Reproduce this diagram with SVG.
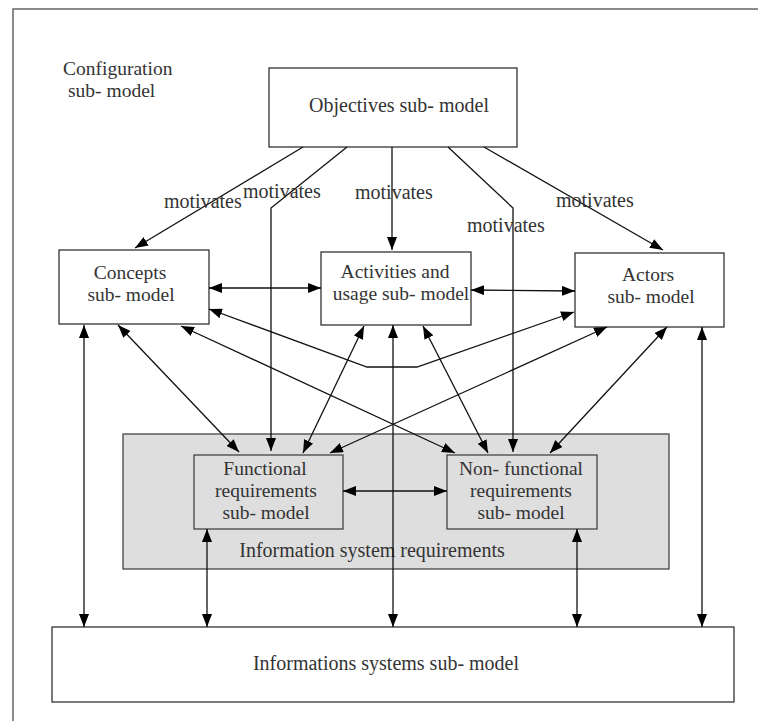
<svg xmlns="http://www.w3.org/2000/svg" width="758" height="721" viewBox="0 0 758 721">
  <style>
    .box { fill: #ffffff; stroke: #333333; stroke-width: 1.3; }
    .grey { fill: #dedede; stroke: #444444; stroke-width: 1.3; }
    .frame { fill: none; stroke: #666666; stroke-width: 1.5; }
    .lbl { font-family: "Liberation Serif", "Times New Roman", serif; font-size: 20px; fill: #333333; }
    .ml { font-size: 19.5px; }
    .mid { text-anchor: middle; }
    .conn path { fill: none; stroke: #111111; stroke-width: 1.3; }
    .one { marker-end: url(#ah); }
    .two { marker-start: url(#ah); marker-end: url(#ah); }
  </style>
  <defs>
    <marker id="ah" viewBox="0 0 13 10" refX="13" refY="5" markerWidth="13" markerHeight="10" markerUnits="userSpaceOnUse" orient="auto-start-reverse">
      <path d="M0,0 L13,5 L0,10 z" fill="#000000"/>
    </marker>
  </defs>

  <rect width="758" height="721" fill="#ffffff"/>

  <!-- page frame (only top and left edges fall inside the sheet) -->
  <path class="frame" d="M13,721 L13,9 L758,9"/>

  <text class="lbl ml" x="63" y="75">Configuration</text>
  <text class="lbl ml" x="68" y="97">sub- model</text>

  <!-- requirements container -->
  <g id="requirements">
    <rect class="grey" x="123" y="434" width="546" height="135"/>
    <text class="lbl mid" x="372" y="557">Information system requirements</text>
  </g>

  <g id="objectives">
    <rect class="box" x="269" y="68" width="248" height="79"/>
    <text class="lbl mid" x="399" y="112">Objectives sub- model</text>
  </g>

  <g id="concepts">
    <rect class="box" x="59" y="250" width="150" height="74"/>
    <text class="lbl ml mid" x="130" y="279">Concepts</text>
    <text class="lbl ml mid" x="131" y="301">sub- model</text>
  </g>

  <g id="activities">
    <rect class="box" x="321" y="252" width="150" height="73"/>
    <text class="lbl ml mid" x="395" y="278">Activities and</text>
    <text class="lbl ml mid" x="401" y="300">usage sub- model</text>
  </g>

  <g id="actors">
    <rect class="box" x="575" y="253" width="149" height="74"/>
    <text class="lbl ml mid" x="648" y="281">Actors</text>
    <text class="lbl ml mid" x="651" y="303">sub- model</text>
  </g>

  <g id="functional">
    <rect class="grey" x="194" y="455" width="149" height="74"/>
    <text class="lbl ml mid" x="265" y="475">Functional</text>
    <text class="lbl ml mid" x="266" y="497">requirements</text>
    <text class="lbl ml mid" x="266" y="519">sub- model</text>
  </g>

  <g id="nonfunctional">
    <rect class="grey" x="447" y="455" width="150" height="74"/>
    <text class="lbl ml mid" x="521" y="475">Non- functional</text>
    <text class="lbl ml mid" x="521" y="497">requirements</text>
    <text class="lbl ml mid" x="521" y="519">sub- model</text>
  </g>

  <g id="infosystems">
    <rect class="box" x="52" y="627" width="682" height="75"/>
    <text class="lbl mid" x="386" y="670">Informations systems sub- model</text>
  </g>

  <g id="connectors" class="conn">
    <!-- motivates links from objectives -->
    <path class="one" d="M303,147 L135,248"/>
    <path class="one" d="M347,147 L271,208 L271,451"/>
    <path class="one" d="M392,147 L392,250"/>
    <path class="one" d="M448,147 L513,208 L513,452"/>
    <path class="one" d="M484,147 L663,250"/>
    <!-- two-way links -->
    <path class="two" d="M209,288 L321,288"/>
    <path class="two" d="M471,290 L575,291"/>
    <path class="two" d="M209,309 L367,367 L417,367 L574,312"/>
    <path class="two" d="M181,326 L455,453"/>
    <path class="two" d="M118,325 L239,452"/>
    <path class="two" d="M364,326 L303,453"/>
    <path class="two" d="M423,326 L488,453"/>
    <path class="two" d="M607,327 L330,453"/>
    <path class="two" d="M667,327 L550,453"/>
    <path class="two" d="M343,491 L447,491"/>
    <path class="two" d="M84,325 L84,627"/>
    <path class="two" d="M393,325 L393,627"/>
    <path class="two" d="M702,327 L702,627"/>
    <path class="two" d="M207,529 L207,627"/>
    <path class="two" d="M577,529 L577,627"/>
  </g>

  <!-- link labels -->
  <text class="lbl" x="164" y="208">motivates</text>
  <text class="lbl" x="243" y="198">motivates</text>
  <text class="lbl" x="355" y="199">motivates</text>
  <text class="lbl" x="467" y="232">motivates</text>
  <text class="lbl" x="556" y="207">motivates</text>
</svg>
